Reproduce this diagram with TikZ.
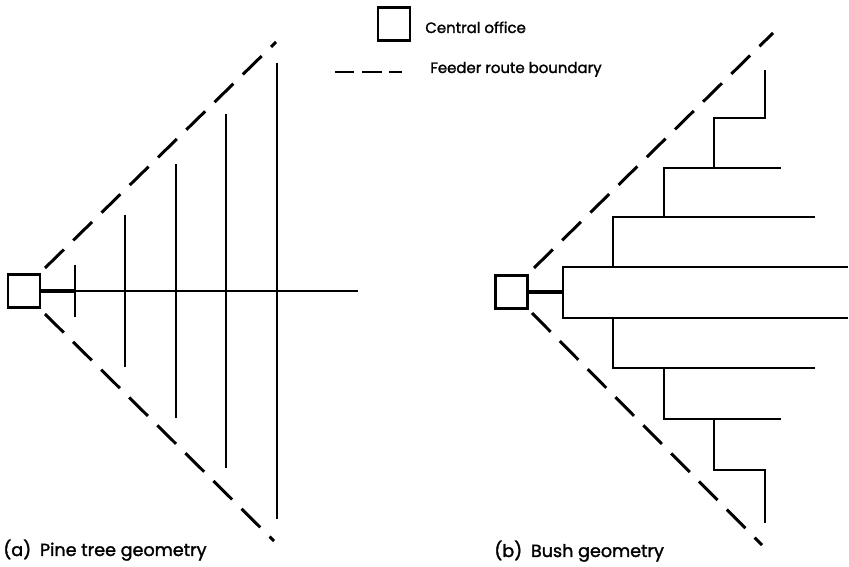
\documentclass[tikz,border=0pt]{standalone}
\usepackage{fontspec}
\setmainfont{Poppins}[FakeBold=1.6]
\usetikzlibrary{positioning, calc}
\tikzstyle{office} = [rectangle, draw, line width=1.5pt, minimum width=0.64cm, minimum height=0.66cm, inner sep=0pt]
\tikzstyle{stub} = [line width=2.6pt]
\tikzstyle{cable} = [line width=1.6pt]
\tikzstyle{trunk} = [line width=1.1pt]
\tikzstyle{boundary} = [line width=1.7pt, dash pattern=on 15pt off 7.5pt]
\tikzstyle{keytext} = [font=\fontsize{8.5}{10}\selectfont, anchor=base west, inner sep=0pt]
\tikzstyle{caption} = [font=\fontsize{10}{12}\selectfont, anchor=base west, inner sep=0pt]

\begin{document}
\begin{tikzpicture}[x=0.02cm, y=-0.02cm]
    \useasboundingbox (0,0) rectangle (849,567);

    % Key
    \node[office] (keybox) at (394,24) {};
    \node[keytext] (keyco) at (425,33) {Central office};
    \coordinate (keyA) at (335,72);
    \coordinate (keyB) at (402,72);
    \draw[boundary, dash pattern=on 11pt off 4.5pt] (keyA) -- (keyB);
    \node[keytext] (keyfr) at (430,73) {Feeder route boundary};

    % (a) Pine tree
    \node[office] (coA) at (24,291) {};
    \coordinate (tapA) at (75,291);
    \coordinate (endA) at (358,291);
    \draw[stub] (coA.east) -- (tapA);
    \draw[trunk] (tapA) -- (endA);
    \foreach \x in {75,125,176,226,277}
        \draw[cable] (\x,{291-(\x-49)}) -- (\x,{291+(\x-49)});
    \draw[boundary] (45,268) -- (276,42);
    \draw[boundary] (45,314) -- (274,541);

    % (b) Bush
    \node[office] (coB) at (511.5,292) {};
    \coordinate (hub) at (563,292);
    \draw[stub] (coB.east) -- (hub);
    \foreach \ya/\yb/\yc/\yd/\ye in {267/217/168/118/70, 318/368/419/470/523} {
        \draw[cable] (hub) |- (848,\ya);
        \draw[cable] (613,\ya) |- (815,\yb);
        \draw[cable] (664,\yb) |- (781,\yc);
        \draw[cable] (714,\yc) |- (765,\yd) -- (765,\ye);
    }
    \draw[boundary] (534,268) -- (773,33);
    \draw[boundary] (532,313) -- (762,545);

    % Captions
    \node[caption] (capA) at (3,556) {(a)\enspace Pine tree geometry};
    \node[caption] (capB) at (494,557) {(b)\enspace Bush geometry};
\end{tikzpicture}
\end{document}
